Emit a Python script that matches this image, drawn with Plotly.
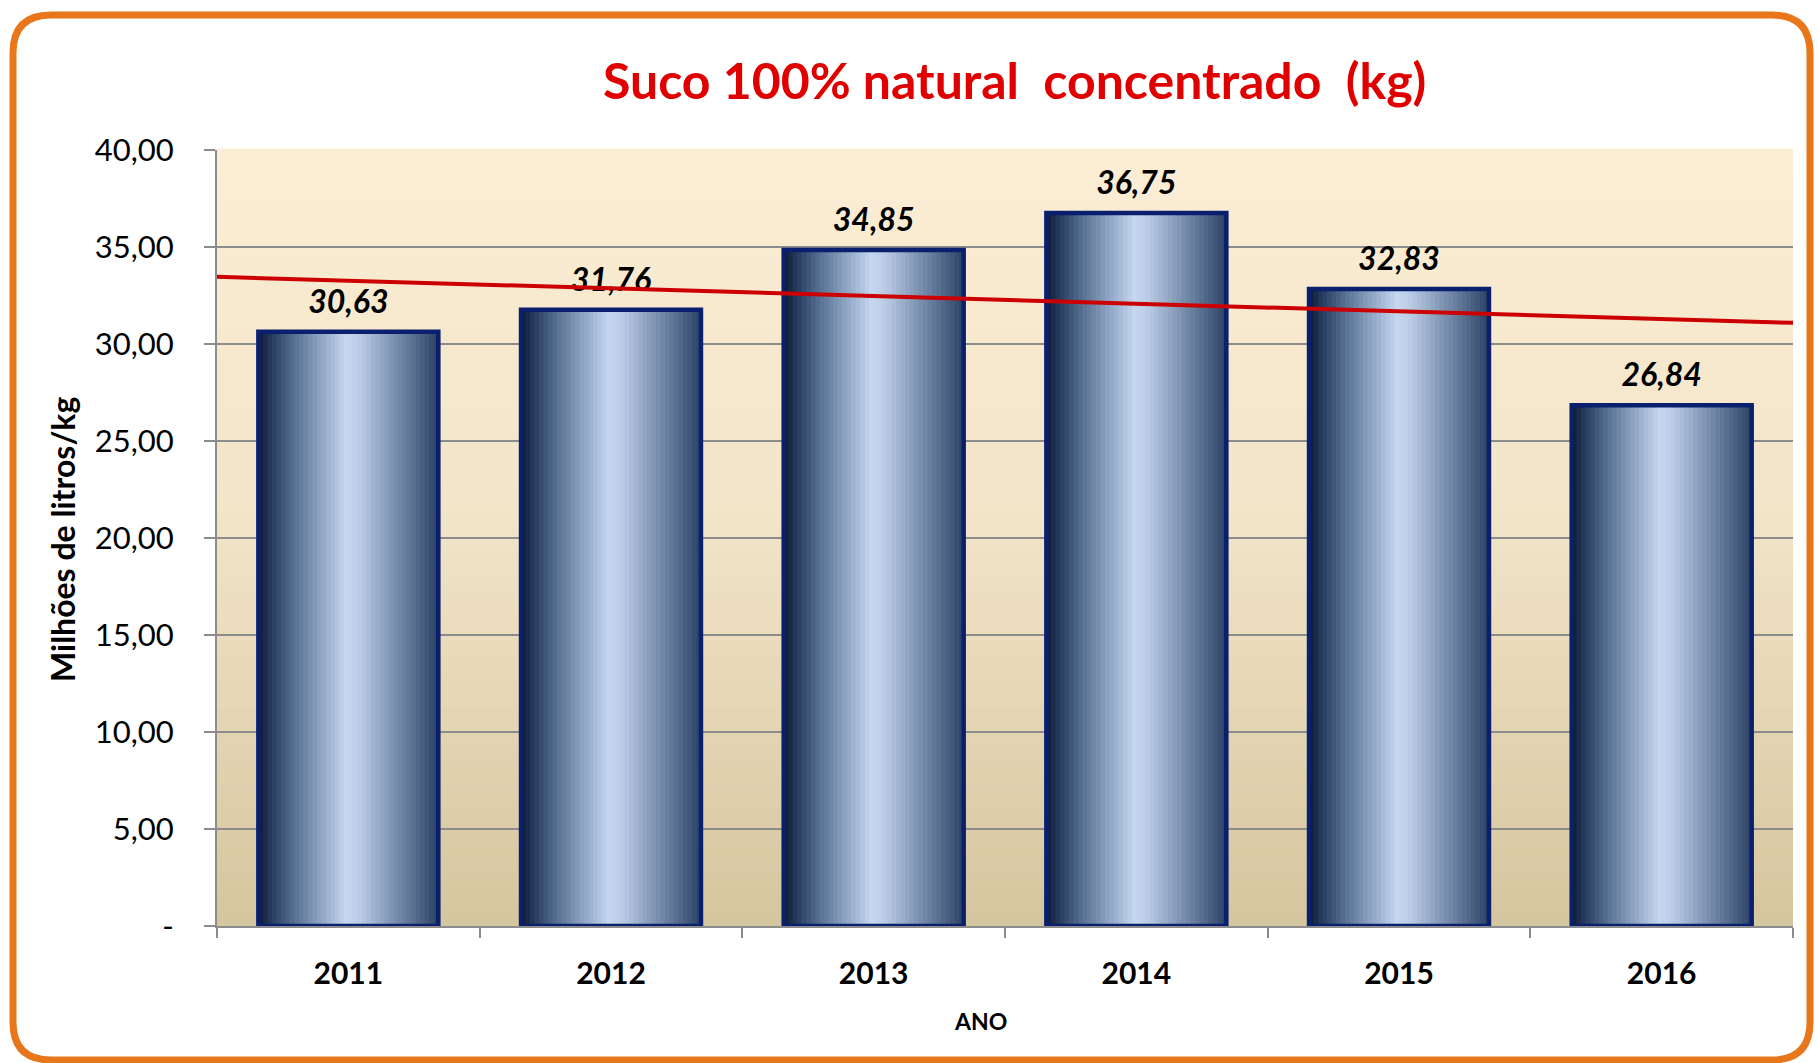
import numpy as np
import plotly.graph_objects as go

# dados do gráfico
anos = ["2011", "2012", "2013", "2014", "2015", "2016"]
valores = [30.63, 31.76, 34.85, 36.75, 32.83, 26.84]
y_ticks = [0, 5, 10, 15, 20, 25, 30, 35, 40]
y_labels = ["-", "5,00", "10,00", "15,00", "20,00", "25,00", "30,00", "35,00", "40,00"]

W, H = 1818, 1063
FONT = "Lato"


def px(x):
    return x / W


def py(y):
    return 1 - y / H


def hex_rgb(h):
    h = h.lstrip("#")
    return [int(h[i:i + 2], 16) for i in (0, 2, 4)]


def interp_color(stops, t):
    # stops: lista de (posição 0..1, cor hex)
    for (p0, c0), (p1, c1) in zip(stops[:-1], stops[1:]):
        if p0 <= t <= p1:
            f = (t - p0) / (p1 - p0) if p1 > p0 else 0
            a, b = hex_rgb(c0), hex_rgb(c1)
            r = [round(a[k] + (b[k] - a[k]) * f) for k in range(3)]
            return "rgb(%d,%d,%d)" % tuple(r)
    return stops[-1][1]


# gradiente horizontal das barras (esquerda -> direita)
bar_stops = [(0.00, "#0e1a33"), (0.07, "#253a5c"), (0.20, "#587192"),
             (0.35, "#90a6c4"), (0.49, "#c6d7f0"), (0.56, "#bccce6"),
             (0.70, "#8da2bf"), (0.86, "#5a7091"), (1.00, "#2c4265")]
# gradiente vertical do fundo (baixo -> cima)
bg_stops = [(0.00, "#d4c59e"), (0.30, "#e6d8b6"), (0.55, "#f3e5c9"), (1.00, "#fbeed4")]

bar_w = 0.685
n_strips = 40
strip = bar_w / n_strips

fig = go.Figure()

for i in range(n_strips):
    t = (i + 0.5) / n_strips
    fig.add_trace(go.Bar(
        x=anos, y=valores,
        width=strip * 1.4,
        offset=-bar_w / 2 + i * strip,
        marker=dict(color=interp_color(bar_stops, t), line=dict(width=0)),
        showlegend=False, hoverinfo="skip",
    ))

# contorno das barras
fig.add_trace(go.Bar(
    x=anos, y=valores, width=bar_w, offset=-bar_w / 2,
    marker=dict(color="rgba(0,0,0,0)", line=dict(color="#0a1f6e", width=4.5)),
    showlegend=False, hoverinfo="skip",
))

# rótulos de dados
fig.add_trace(go.Scatter(
    x=anos, y=valores, mode="markers+text",
    marker=dict(size=16, opacity=0),
    text=[f"{v:.2f}".replace(".", ",") for v in valores],
    textposition="top center",
    textfont=dict(family=FONT, size=32, color="black", weight="bold", style="italic"),
    cliponaxis=False, showlegend=False, hoverinfo="skip",
))

# linha de tendência linear
idx = np.arange(len(valores))
a, b = np.polyfit(idx, valores, 1)
tx = [-0.5, len(valores) - 0.5]
fig.add_trace(go.Scatter(
    x=tx, y=[a * v + b for v in tx], xaxis="x2", mode="lines",
    line=dict(color="#cc0000", width=4), showlegend=False, hoverinfo="skip",
))

# fundo em degradê da área do gráfico
shapes = []
n_bg = 60
for k in range(n_bg):
    shapes.append(dict(
        type="rect", xref="x domain", yref="y domain",
        x0=0, x1=1, y0=k / n_bg, y1=(k + 1) / n_bg + 0.002,
        fillcolor=interp_color(bg_stops, (k + 0.5) / n_bg),
        line=dict(width=0), layer="below",
    ))

# moldura laranja arredondada
l, t_, r, bt, rad = 13, 15, 1810, 1060, 38
path = (f"M {px(l + rad)},{py(t_)} L {px(r - rad)},{py(t_)} Q {px(r)},{py(t_)} {px(r)},{py(t_ + rad)} "
        f"L {px(r)},{py(bt - rad)} Q {px(r)},{py(bt)} {px(r - rad)},{py(bt)} "
        f"L {px(l + rad)},{py(bt)} Q {px(l)},{py(bt)} {px(l)},{py(bt - rad)} "
        f"L {px(l)},{py(t_ + rad)} Q {px(l)},{py(t_)} {px(l + rad)},{py(t_)} Z")
shapes.append(dict(type="path", xref="paper", yref="paper", path=path,
                   line=dict(color="#e8761a", width=7), layer="above"))

fig.update_layout(
    width=W, height=H,
    margin=dict(l=0, r=0, t=0, b=0),
    paper_bgcolor="white", plot_bgcolor="#f6e9cd",
    barmode="overlay",
    font=dict(family=FONT, color="black"),
    shapes=shapes,
    xaxis=dict(
        domain=[px(217), px(1793)], type="category", range=[-0.5, 5.5],
        tickson="boundaries", ticks="outside", ticklen=10, tickwidth=2, tickcolor="#8c8c8c",
        showline=True, linecolor="#8c8c8c", linewidth=2, showgrid=False,
        tickfont=dict(family=FONT, size=30, color="black", weight="bold"),
        ticklabelstandoff=20, automargin=False,
    ),
    xaxis2=dict(overlaying="x", range=[-0.5, 5.5], visible=False,
                domain=[px(217), px(1793)]),
    yaxis=dict(
        domain=[py(926), py(150)], range=[0, 40],
        tickvals=y_ticks, ticktext=y_labels,
        ticks="outside", ticklen=11, tickwidth=2, tickcolor="#8c8c8c",
        showline=True, linecolor="#8c8c8c", linewidth=2,
        showgrid=True, gridcolor="#8c8c8c", gridwidth=2, zeroline=False,
        tickfont=dict(family=FONT, size=31, color="black"),
        ticklabelstandoff=24, automargin=False,
    ),
    annotations=[
        dict(text="Suco 100% natural&nbsp; concentrado&nbsp; (kg)", x=px(1015), y=py(80),
             xref="paper", yref="paper", showarrow=False, xanchor="center", yanchor="middle",
             font=dict(family=FONT, size=50, color="#e00000", weight="bold")),
        dict(text="Milhões de litros/kg", x=px(62), y=py(540), textangle=-90,
             xref="paper", yref="paper", showarrow=False, xanchor="center", yanchor="middle",
             font=dict(family=FONT, size=32, color="black", weight="bold")),
        dict(text="ANO", x=px(980), y=py(1021),
             xref="paper", yref="paper", showarrow=False, xanchor="center", yanchor="middle",
             font=dict(family=FONT, size=23, color="black", weight="bold")),
    ],
)

fig.write_html("out.html", config={"displayModeBar": False},
               post_script="document.body.style.margin = '0';")
